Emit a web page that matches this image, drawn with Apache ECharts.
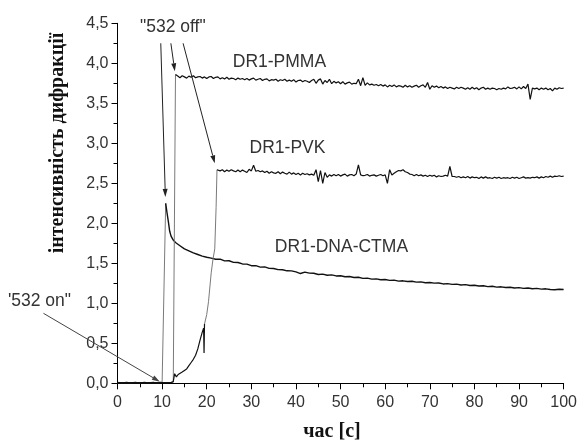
<!DOCTYPE html>
<html><head><meta charset="utf-8">
<script src="https://cdn.jsdelivr.net/npm/echarts@6/dist/echarts.min.js"></script>
<style>html,body{margin:0;padding:0;background:#fff}#c{width:580px;height:444px}</style>
</head><body><div id="c"></div>
<script>
// ---------- DATA ----------
const seriesNames = ['DR1-PMMA', 'DR1-PVK', 'DR1-DNA-CTMA'];
const xAxisTitle = 'час [c]';
const yAxisTitle = 'інтенсивність дифракції';

// DR1-DNA-CTMA : start of curve (time / value)
const dnaTime  = [0,1,2,3,4,5,6,7,8,9,9.6,10.0,10.8,11.1,11.4,11.7,12.0,12.5,13,14,15,16,17,18,19,20];
const dnaValue = [0.01,0.0,0.01,0.005,0.01,0.0,0.01,0.005,0.01,0.0,0.01,0.01,2.25,2.13,2.02,1.90,1.84,1.79,1.76,1.72,1.68,1.655,1.63,1.61,1.59,1.575];
const dnaTailStart = 21, dnaTailStep = 1;
const dnaTailValue = [1.565,1.55,1.552,1.53,1.532,1.512,1.51,1.492,1.49,1.47,
  1.47,1.452,1.455,1.436,1.435,1.421,1.42,1.406,1.405,1.392,
  1.372,1.39,1.377,1.375,1.36,1.365,1.35,1.355,1.342,1.345,
  1.332,1.335,1.322,1.325,1.312,1.315,1.302,1.305,1.295,1.297,
  1.287,1.29,1.277,1.281,1.272,1.275,1.265,1.268,1.257,1.26,
  1.252,1.254,1.242,1.246,1.237,1.239,1.229,1.233,1.222,1.225,
  1.217,1.219,1.209,1.213,1.202,1.206,1.197,1.201,1.192,1.196,
  1.187,1.191,1.182,1.186,1.177,1.181,1.173,1.169,1.176,1.172];
const dnaRise = [10.0, 10.8];

// DR1-PMMA
const pmmaTime  = [0,1,2,3,4,5,6,7,8,9,10,11,12,12.5,13.0];
const pmmaValue = [0.005,0.01,0.0,0.01,0.005,0.01,0.0,0.01,0.005,0.01,0.01,0.005,0.01,0.02,3.86];
const pmmaTailStart = 13.5, pmmaTailStep = 0.5;
const pmmaTailValue = [
  3.84,3.82,3.845,3.83,3.815,3.84,3.825,3.845,3.82,3.83,
  3.835,3.815,3.83,3.81,3.83,3.835,3.81,3.825,3.83,3.805,
  3.82,3.805,3.825,3.80,3.815,3.81,3.795,3.815,3.80,3.81,
  3.795,3.81,3.79,3.805,3.815,3.79,3.80,3.81,3.785,3.80,
  3.805,3.78,3.795,3.79,3.80,3.775,3.795,3.785,3.80,3.775,
  3.79,3.775,3.795,3.765,3.785,3.79,3.77,3.785,3.775,3.76,
  3.785,3.80,3.75,3.79,3.805,3.74,3.785,3.76,3.80,3.745,
  3.775,3.755,3.77,3.745,3.77,3.74,3.755,3.765,3.74,3.75,
  3.745,3.80,3.72,3.82,3.725,3.755,3.73,3.74,3.725,3.735,
  3.72,3.735,3.715,3.73,3.705,3.725,3.71,3.73,3.705,3.72,
  3.715,3.70,3.725,3.705,3.72,3.70,3.715,3.725,3.70,3.72,
  3.73,3.70,3.76,3.675,3.72,3.70,3.715,3.695,3.71,3.69,
  3.705,3.685,3.70,3.69,3.68,3.70,3.685,3.70,3.69,3.675,
  3.695,3.675,3.70,3.68,3.695,3.67,3.69,3.70,3.675,3.69,
  3.675,3.69,3.685,3.67,3.685,3.675,3.69,3.68,3.705,3.685,
  3.69,3.70,3.68,3.705,3.68,3.71,3.685,3.74,3.55,3.69,
  3.68,3.69,3.67,3.69,3.675,3.69,3.67,3.685,3.655,3.69,
  3.675,3.695,3.685,3.69];
const pmmaRise = [12.5, 13.0];

// DR1-PVK
const pvkTime  = [0,1,2,3,4,5,6,7,8,9,10,11,12,12.5,12.8,13.2,13.6,14,14.5,15,15.5,16,16.5,17,17.5,18,18.5,19,19.3,19.4,19.5,20,20.4,21,21.4,21.8,22.1,22.3];
const pvkValue = [0.0,0.01,0.005,0.0,0.01,0.005,0.01,0.0,0.01,0.005,0.01,0.01,0.01,0.02,0.12,0.08,0.11,0.12,0.14,0.16,0.18,0.22,0.26,0.30,0.35,0.43,0.54,0.64,0.69,0.38,0.74,0.86,1.02,1.38,1.55,1.68,2.2,2.67];
const pvkTailStart = 22.5, pvkTailStep = 0.5;
const pvkTailValue = [
  2.67,2.655,2.67,2.645,2.665,2.65,2.67,2.655,2.645,2.665,
  2.645,2.665,2.65,2.635,2.675,2.655,2.725,2.65,2.66,2.645,
  2.655,2.635,2.65,2.625,2.645,2.63,2.625,2.645,2.62,2.64,
  2.625,2.615,2.64,2.615,2.63,2.61,2.625,2.605,2.625,2.61,
  2.62,2.605,2.615,2.60,2.67,2.52,2.66,2.50,2.635,2.575,
  2.605,2.59,2.61,2.595,2.61,2.59,2.605,2.615,2.59,2.605,
  2.61,2.595,2.615,2.73,2.605,2.595,2.60,2.61,2.59,2.60,
  2.605,2.59,2.60,2.61,2.595,2.605,2.50,2.67,2.605,2.625,
  2.645,2.66,2.655,2.67,2.645,2.635,2.615,2.61,2.595,2.61,
  2.595,2.605,2.59,2.60,2.585,2.60,2.59,2.60,2.58,2.595,
  2.585,2.59,2.60,2.59,2.71,2.585,2.585,2.575,2.585,2.57,
  2.58,2.57,2.585,2.565,2.58,2.57,2.575,2.56,2.58,2.565,
  2.58,2.565,2.57,2.56,2.575,2.565,2.575,2.56,2.57,2.565,
  2.57,2.56,2.575,2.565,2.575,2.56,2.57,2.58,2.565,2.57,
  2.565,2.575,2.57,2.58,2.565,2.58,2.57,2.585,2.575,2.59,
  2.575,2.59,2.585,2.595,2.585,2.59];
const pvkRise = [19.5, 22.3];

// ---------- BUILD ----------
function buildPoints(time, value, start, step, tail) {
  const pts = time.map((t, i) => [t, value[i]]);
  tail.forEach((v, i) => pts.push([start + i * step, v]));
  return pts;
}
function lineSeries(name, data, color, width) {
  return { name: name, type: 'line', data: data, showSymbol: false, symbol: 'none',
    lineStyle: { color: color, width: width }, itemStyle: { color: color },
    silent: true, animation: false, z: 3 };
}
function splitSeries(name, pts, rise, width) {
  const before = pts.filter(p => p[0] <= rise[0]);
  const mid = pts.filter(p => p[0] >= rise[0] && p[0] <= rise[1]);
  const after = pts.filter(p => p[0] >= rise[1]);
  return [lineSeries(name, before, '#111', width),
          lineSeries(name + ' rise', mid, '#7a7a7a', 1),
          lineSeries(name, after, '#111', width)];
}

const dnaPts  = buildPoints(dnaTime, dnaValue, dnaTailStart, dnaTailStep, dnaTailValue);
const pmmaPts = buildPoints(pmmaTime, pmmaValue, pmmaTailStart, pmmaTailStep, pmmaTailValue);
const pvkPts  = buildPoints(pvkTime, pvkValue, pvkTailStart, pvkTailStep, pvkTailValue);

const labelFont = 'Liberation Sans, Arial, sans-serif';
const option = {
  animation: false,
  backgroundColor: '#fff',
  grid: { left: 117.5, right: 15, top: 23.3, bottom: 60.7, containLabel: false },
  xAxis: {
    type: 'value', min: 0, max: 100, interval: 10,
    axisLine: { show: true, onZero: false, lineStyle: { color: '#000', width: 1 } },
    axisTick: { show: true, inside: false, length: 6, lineStyle: { color: '#000' } },
    minorTick: { show: true, splitNumber: 2, length: 4, lineStyle: { color: '#000' } },
    splitLine: { show: false }, minorSplitLine: { show: false },
    axisLabel: { color: '#333', fontSize: 16, fontFamily: labelFont, margin: 11 }
  },
  yAxis: {
    type: 'value', min: 0, max: 4.5, interval: 0.5,
    axisLine: { show: true, onZero: false, lineStyle: { color: '#000', width: 1 } },
    axisTick: { show: true, inside: false, length: 6, lineStyle: { color: '#000' } },
    minorTick: { show: true, splitNumber: 2, length: 4, lineStyle: { color: '#000' } },
    splitLine: { show: false }, minorSplitLine: { show: false },
    axisLabel: { color: '#333', fontSize: 16, fontFamily: labelFont, margin: 9,
      formatter: v => v.toFixed(1).replace('.', ',') }
  },
  series: [].concat(
    splitSeries(seriesNames[2], dnaPts, dnaRise, 1.4),
    splitSeries(seriesNames[0], pmmaPts, pmmaRise, 1.2),
    splitSeries(seriesNames[1], pvkPts, pvkRise, 1.2)
  )
};

const chart = echarts.init(document.getElementById('c'), null, { renderer: 'canvas' });
chart.setOption(option);

// ---------- ANNOTATIONS ----------
const px = (x, y) => chart.convertToPixel({ gridIndex: 0 }, [x, y]);
function arrow(from, to, color) {
  const a = px(from[0], from[1]), b = px(to[0], to[1]);
  const dx = b[0] - a[0], dy = b[1] - a[1], len = Math.hypot(dx, dy);
  const ux = dx / len, uy = dy / len, L = 8, W = 2.5;
  const bx = b[0] - ux * L, by = b[1] - uy * L;
  return [
    { type: 'line', silent: true, z: 10, shape: { x1: a[0], y1: a[1], x2: bx, y2: by },
      style: { stroke: color, lineWidth: 1 } },
    { type: 'polygon', silent: true, z: 10,
      shape: { points: [[b[0], b[1]], [bx - uy * W, by + ux * W], [bx + uy * W, by - ux * W]] },
      style: { fill: color } }
  ];
}
function label(text, at, size) {
  const p = px(at[0], at[1]);
  return { type: 'text', silent: true, z: 10, x: p[0], y: p[1],
    style: { text: text, fill: '#333', font: size + 'px ' + labelFont, align: 'center', verticalAlign: 'middle' } };
}
const graphics = [].concat(
  label(seriesNames[0], [36.3, 4.02], 17.5),
  label(seriesNames[1], [38.1, 2.94], 17.5),
  label(seriesNames[2], [50.2, 1.70], 17.5),
  label('"532 off"', [12.4, 4.45], 17.5),
  label('\'532 on"', [-17.5, 1.03], 17.5),
  arrow([9.7, 4.25], [10.73, 2.33], '#222'),
  arrow([11.96, 4.25], [12.85, 3.90], '#222'),
  arrow([14.7, 4.25], [21.8, 2.75], '#222'),
  arrow([-16.6, 0.875], [9.5, 0.02], '#444'),
  [
    { type: 'text', silent: true, z: 10, x: 58, y: 143, rotation: Math.PI / 2,
      style: { text: yAxisTitle, fill: '#111', font: 'bold 20px Liberation Serif, Times New Roman, serif',
        align: 'center', verticalAlign: 'middle' } },
    { type: 'text', silent: true, z: 10, x: 332, y: 432,
      style: { text: xAxisTitle, fill: '#111', font: 'bold 20px Liberation Serif, Times New Roman, serif',
        align: 'center', verticalAlign: 'middle' } }
  ]
);
chart.setOption({ graphic: graphics });
</script>
</body></html>
